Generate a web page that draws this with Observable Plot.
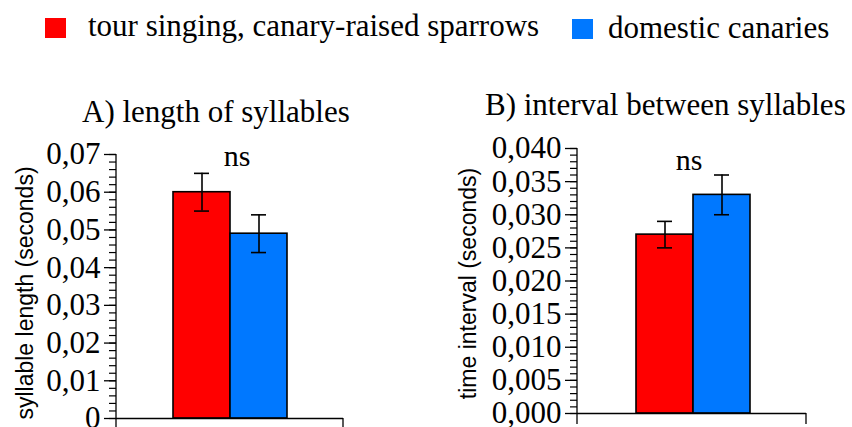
<!DOCTYPE html>
<html><head><meta charset="utf-8">
<script src="https://cdn.jsdelivr.net/npm/d3@7"></script>
<script src="https://cdn.jsdelivr.net/npm/@observablehq/plot@0.6"></script>
<style>
body{margin:0;background:#fff;}
#root{position:relative;width:852px;height:427px;overflow:hidden;font-family:"Liberation Serif","Times New Roman",Tinos,"Nimbus Roman","FreeSerif","DejaVu Serif","Noto Serif",serif;color:#000;}
.abs{position:absolute;white-space:nowrap;line-height:31px;font-size:31px;}
.sw{position:absolute;width:21px;height:20px;}
svg{position:absolute;overflow:visible;}
</style></head><body><div id="root"></div>
<script>
// ---- data ----
const groups = ["tour singing, canary-raised sparrows", "domestic canaries"];
const groupColors = ["#ff0000", "#0078ff"];
const panelTitles = ["A) length of syllables", "B) interval between syllables"];
const yTitles = ["syllable length (seconds)", "time interval (seconds)"];
const sigLabels = ["ns", "ns"];

const lengthMean = [0.060, 0.049];
const lengthLow  = [0.055, 0.044];
const lengthHigh = [0.065, 0.054];

const intervalMean = [0.027, 0.033];
const intervalLow  = [0.025, 0.030];
const intervalHigh = [0.029, 0.036];

const lengthTicks = [0, 0.01, 0.02, 0.03, 0.04, 0.05, 0.06, 0.07];
const lengthTickLabels = ["0", "0,01", "0,02", "0,03", "0,04", "0,05", "0,06", "0,07"];
const intervalTicks = [0, 0.005, 0.010, 0.015, 0.020, 0.025, 0.030, 0.035, 0.040];
const intervalTickLabels = ["0,000", "0,005", "0,010", "0,015", "0,020", "0,025", "0,030", "0,035", "0,040"];

const SERIF = '"Liberation Serif","Times New Roman",Tinos,"Nimbus Roman","FreeSerif","DejaVu Serif","Noto Serif",serif';
const SANS = '"Liberation Sans",Arial,sans-serif';
const root = document.getElementById("root");

// ---- legend & titles (HTML) ----
function addDiv(cls, left, top, text, extra) {
  const d = document.createElement("div");
  d.className = cls;
  d.style.left = left + "px";
  d.style.top = top + "px";
  if (text != null) d.textContent = text;
  if (extra) Object.assign(d.style, extra);
  root.appendChild(d);
  return d;
}
addDiv("sw", 45, 18, null, {background: groupColors[0]});
addDiv("abs", 88, 10, groups[0]);
addDiv("sw", 572, 19, null, {background: groupColors[1]});
addDiv("abs", 608, 12, groups[1]);
addDiv("abs", 82, 96, panelTitles[0]);
addDiv("abs", 485, 89, panelTitles[1]);

// ---- panels ----
function panel(cfg) {
  const rows = groups.map((g, i) => ({group: g, mean: cfg.mean[i], low: cfg.low[i], high: cfg.high[i]}));
  const ymax = cfg.ticks[cfg.ticks.length - 1];
  const minor = d3.range(0, ymax + cfg.minorStep / 2, cfg.minorStep);
  const frameLines = (index, scales, values, dims) => {
    const g = d3.create("svg:g").attr("stroke", "black").attr("stroke-width", 1.3);
    const xl = dims.marginLeft, xr = dims.width - dims.marginRight;
    g.append("line").attr("x1", xl).attr("x2", xl).attr("y1", scales.y(ymax)).attr("y2", dims.height);
    g.append("line").attr("x1", xr).attr("x2", xr).attr("y1", scales.y(0)).attr("y2", dims.height);
    return g.node();
  };
  const svg = Plot.plot({
    width: cfg.width, height: cfg.height,
    marginLeft: cfg.marginLeft, marginRight: cfg.marginRight, marginTop: 0, marginBottom: 0,
    x: {domain: groups, range: cfg.xRange, padding: 0, axis: null},
    y: {domain: [0, ymax], range: cfg.yRange, axis: null},
    color: {domain: groups, range: groupColors},
    style: {background: "transparent", overflow: "visible", fontFamily: SERIF},
    marks: [
      Plot.barY(rows, {x: "group", y: "mean", fill: "group", stroke: "black", strokeWidth: 1.6}),
      Plot.ruleY([0], {stroke: "black", strokeWidth: 1.3}),
      frameLines,
      Plot.axisY({ticks: minor, tickSize: 7, tickFormat: () => "", strokeWidth: 1.2}),
      Plot.axisY({ticks: cfg.ticks, tickSize: 12, tickPadding: 4, strokeWidth: 1.3,
        tickFormat: d => cfg.tickLabels[cfg.ticks.indexOf(d)],
        fontSize: cfg.fontSize, fontFamily: SERIF, fill: "black"}),
      Plot.ruleX(rows, {x: "group", y1: "low", y2: "high", stroke: "black", strokeWidth: 1.6}),
      Plot.tickY(rows, {x: "group", y: "low", insetLeft: 21, insetRight: 21, stroke: "black", strokeWidth: 1.6}),
      Plot.tickY(rows, {x: "group", y: "high", insetLeft: 21, insetRight: 21, stroke: "black", strokeWidth: 1.6}),
      Plot.text([cfg.sig], {x: () => groups[0], frameAnchor: "top", lineAnchor: "middle", textAnchor: "middle",
        dx: cfg.sigDx, dy: cfg.sigDy, fontSize: 30, fontFamily: SERIF, fill: "black"}),
      Plot.text([cfg.yTitle], {frameAnchor: "left", rotate: -90, textAnchor: "middle", lineAnchor: "middle",
        dx: cfg.titleDx, dy: cfg.titleDy, fontSize: 23, fontFamily: SANS, fill: "black"})
    ]
  });
  svg.style.left = cfg.left + "px";
  svg.style.top = cfg.top + "px";
  root.appendChild(svg);
}

panel({
  mean: lengthMean, low: lengthLow, high: lengthHigh,
  ticks: lengthTicks, tickLabels: lengthTickLabels, minorStep: 0.002,
  yTitle: yTitles[0], sig: sigLabels[0],
  left: 0, top: 130, width: 360, height: 297,
  marginLeft: 116, marginRight: 17,
  xRange: [173, 287], yRange: [288, 24],
  fontSize: 31, sigDx: 35, sigDy: 26, titleDx: -91, titleDy: 14
});

panel({
  mean: intervalMean, low: intervalLow, high: intervalHigh,
  ticks: intervalTicks, tickLabels: intervalTickLabels, minorStep: 0.001,
  yTitle: yTitles[1], sig: sigLabels[1],
  left: 440, top: 130, width: 412, height: 294,
  marginLeft: 137, marginRight: 46,
  xRange: [195, 310], yRange: [283, 18],
  fontSize: 31, sigDx: 24, sigDy: 30, titleDx: -109, titleDy: 6
});
</script></body></html>
